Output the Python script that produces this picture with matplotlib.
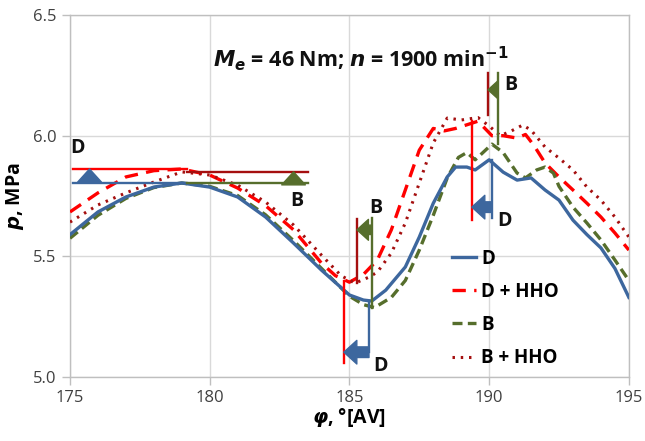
import numpy as np
import matplotlib
matplotlib.use("Agg")
import matplotlib.pyplot as plt

# crank angle / cylinder pressure for the four fuel cases
phi_d = [175, 176, 177, 178, 179, 180, 181, 182, 183, 184, 185, 185.5, 185.8,
         186.3, 187, 187.5, 188, 188.5, 188.8, 189.2, 189.5, 190, 190.5, 191,
         191.5, 192, 192.5, 193, 193.5, 194, 194.5, 195]
p_d = [5.59, 5.684, 5.746, 5.787, 5.804, 5.787, 5.746, 5.663, 5.555, 5.443,
       5.34, 5.319, 5.315, 5.36, 5.456, 5.58, 5.72, 5.829, 5.87, 5.87, 5.858,
       5.90, 5.849, 5.816, 5.825, 5.775, 5.733, 5.65, 5.59, 5.535, 5.45, 5.33]

phi_dh = [175, 176, 177, 178, 179, 180, 181, 182, 183, 184, 184.5, 185, 185.5,
          186, 186.5, 187, 187.5, 188, 188.4, 188.8, 189.2, 189.6, 190.1,
          190.5, 191, 191.3, 191.6, 192, 192.5, 193, 193.5, 194, 194.5, 195]
p_dh = [5.684, 5.763, 5.829, 5.855, 5.862, 5.837, 5.783, 5.71, 5.61, 5.472,
        5.42, 5.393, 5.425, 5.485, 5.61, 5.775, 5.94, 6.03, 6.02, 6.03, 6.045,
        6.06, 6.0, 6.0, 5.99, 6.005, 5.96, 5.887, 5.829, 5.775, 5.72, 5.663,
        5.597, 5.526]

phi_b = [175, 176, 177, 178, 179, 180, 181, 182, 183, 184, 185, 185.5, 185.9,
         186.5, 187, 187.5, 188, 188.5, 188.9, 189.2, 189.5, 190.1, 190.5, 191,
         191.3, 191.7, 192, 192.3, 192.5, 193, 193.5, 194, 194.5, 195]
p_b = [5.575, 5.67, 5.74, 5.785, 5.804, 5.79, 5.752, 5.672, 5.565, 5.45,
       5.335, 5.30, 5.288, 5.33, 5.40, 5.526, 5.67, 5.825, 5.91, 5.93, 5.90,
       5.965, 5.93, 5.845, 5.825, 5.858, 5.87, 5.845, 5.79, 5.704, 5.638,
       5.568, 5.485, 5.40]

phi_bh = [175, 176, 177, 178, 179, 180, 181, 182, 183, 184, 184.7, 185.2,
          185.7, 186, 186.5, 187, 187.5, 188, 188.5, 189, 189.6, 190, 190.4,
          190.8, 191.2, 191.5, 192, 192.5, 193, 193.5, 194, 194.5, 195]
p_bh = [5.642, 5.713, 5.763, 5.808, 5.85, 5.837, 5.795, 5.725, 5.63, 5.505,
        5.42, 5.389, 5.414, 5.435, 5.514, 5.638, 5.804, 5.97, 6.073, 6.065,
        6.075, 6.04, 6.0, 6.02, 6.044, 6.023, 5.953, 5.907, 5.858, 5.787,
        5.733, 5.663, 5.58]

labels = ["D", "D + HHO", "B", "B + HHO"]

c_d = "#3D679E"
c_dh = "#FF0000"
c_b = "#566E2C"
c_bh = "#A50F0F"

# first pressure hump: peak levels
lvl_d, lvl_dh, lvl_b, lvl_bh = 5.804, 5.862, 5.804, 5.85
# position of the pressure dip for each case
min_x = {"D": 185.7, "DH": 184.8, "B": 185.8, "BH": 185.27}
# position of the main peak for each case
max_x = {"D": 190.1, "DH": 189.38, "B": 190.31, "BH": 189.96}

plt.rcParams["font.family"] = ["Open Sans", "DejaVu Sans"]

fig = plt.figure(figsize=(6.45, 4.41), dpi=100)
ax = fig.add_axes([0.1085, 0.145, 0.8665, 0.821])

ax.plot(phi_d, p_d, color=c_d, lw=2.4, label=labels[0], zorder=5)
ax.plot(phi_dh, p_dh, color=c_dh, lw=2.4, ls=(0, (4, 2.5)), label=labels[1], zorder=4)
ax.plot(phi_b, p_b, color=c_b, lw=2.4, ls=(0, (3, 1.6)), label=labels[2], zorder=4)
ax.plot(phi_bh, p_bh, color=c_bh, lw=2.2, ls=(0, (0.8, 1.9)), label=labels[3], zorder=4)

mk_lw = 1.7

def block_arrow(x0, y0, x1, y1, color, scale=17):
    ax.annotate("", xy=(x1, y1), xytext=(x0, y0),
                arrowprops=dict(arrowstyle="simple,head_length=0.55,head_width=1.0,tail_width=0.45",
                                color=color, shrinkA=0, shrinkB=0, mutation_scale=scale),
                zorder=7)

# horizontal marks at the first hump
ax.plot([175.1, 179.2], [lvl_dh, lvl_dh], color=c_dh, lw=mk_lw, zorder=6)
ax.plot([179.2, 183.5], [lvl_bh, lvl_bh], color=c_bh, lw=mk_lw, zorder=6)
ax.plot([175.1, 179.2], [lvl_d, lvl_d], color=c_d, lw=mk_lw, zorder=6)
ax.plot([179.2, 183.5], [lvl_b, lvl_b], color=c_b, lw=mk_lw, zorder=6)
block_arrow(175.7, lvl_d, 175.7, lvl_dh, c_d)
block_arrow(183.0, lvl_b, 183.0, lvl_bh, c_b)

# vertical marks at the pressure dip
ax.plot([min_x["DH"], min_x["DH"]], [5.397, 5.058], color=c_dh, lw=mk_lw, zorder=6)
ax.plot([min_x["D"], min_x["D"]], [5.315, 5.103], color=c_d, lw=mk_lw, zorder=6)
ax.plot([min_x["BH"], min_x["BH"]], [5.39, 5.655], color=c_bh, lw=mk_lw, zorder=6)
ax.plot([min_x["B"], min_x["B"]], [5.288, 5.66], color=c_b, lw=mk_lw, zorder=6)
block_arrow(min_x["D"], 5.103, min_x["DH"], 5.103, c_d)
block_arrow(min_x["B"], 5.61, min_x["BH"], 5.61, c_b, scale=15)

# vertical marks at the main peak
ax.plot([max_x["DH"], max_x["DH"]], [5.65, 6.06], color=c_dh, lw=mk_lw, zorder=6)
ax.plot([max_x["D"], max_x["D"]], [5.90, 5.66], color=c_d, lw=mk_lw, zorder=6)
ax.plot([max_x["BH"], max_x["BH"]], [6.26, 6.086], color=c_bh, lw=mk_lw, zorder=6)
ax.plot([max_x["B"], max_x["B"]], [6.26, 5.965], color=c_b, lw=mk_lw, zorder=6)
block_arrow(max_x["D"], 5.704, max_x["DH"], 5.704, c_d)
block_arrow(max_x["B"], 6.19, max_x["BH"], 6.19, c_b, scale=13)

txt = dict(fontsize=14, fontweight="bold", color="#111111", zorder=8)
ax.text(175.0, 5.93, "D", **txt)
ax.text(182.9, 5.71, "B", **txt)
ax.text(185.7, 5.68, "B", **txt)
ax.text(185.85, 5.025, "D", **txt)
ax.text(190.3, 5.625, "D", **txt)
ax.text(190.55, 6.19, "B", **txt)

ax.text(185.4, 6.32, r"$\mathbfit{M}_{\mathbfit{e}}$ = 46 Nm; $\mathbfit{n}$ = 1900 min$^{\mathbf{-1}}$",
        ha="center", va="center", fontsize=15.5, fontweight="bold", color="#111111")

ax.set_xlim(175, 195)
ax.set_ylim(5.0, 6.5)
ax.set_xticks([175, 180, 185, 190, 195])
ax.set_yticks([5.0, 5.5, 6.0, 6.5])
ax.yaxis.set_major_formatter(matplotlib.ticker.FormatStrFormatter("%.1f"))
ax.tick_params(axis="both", labelsize=12, colors="#404040", direction="out",
               length=6, width=1, color="#BFBFBF")
ax.grid(True, color="#D9D9D9", lw=1)
ax.set_axisbelow(True)
for s in ax.spines.values():
    s.set_color("#BFBFBF")
    s.set_linewidth(1)

ax.set_xlabel(r"$\mathbfit{\varphi}$, °[AV]", fontsize=14, fontweight="bold", labelpad=0)
ax.set_ylabel(r"$\mathbfit{p}$, MPa", fontsize=14, fontweight="bold", labelpad=5)

leg = ax.legend(loc="upper left", bbox_to_anchor=(0.67, 0.375), frameon=False,
                handlelength=1.3, handletextpad=0.25, labelspacing=0.7,
                prop=dict(size=13.5, weight="bold"), borderaxespad=0)

fig.savefig("out.png", dpi=100)
